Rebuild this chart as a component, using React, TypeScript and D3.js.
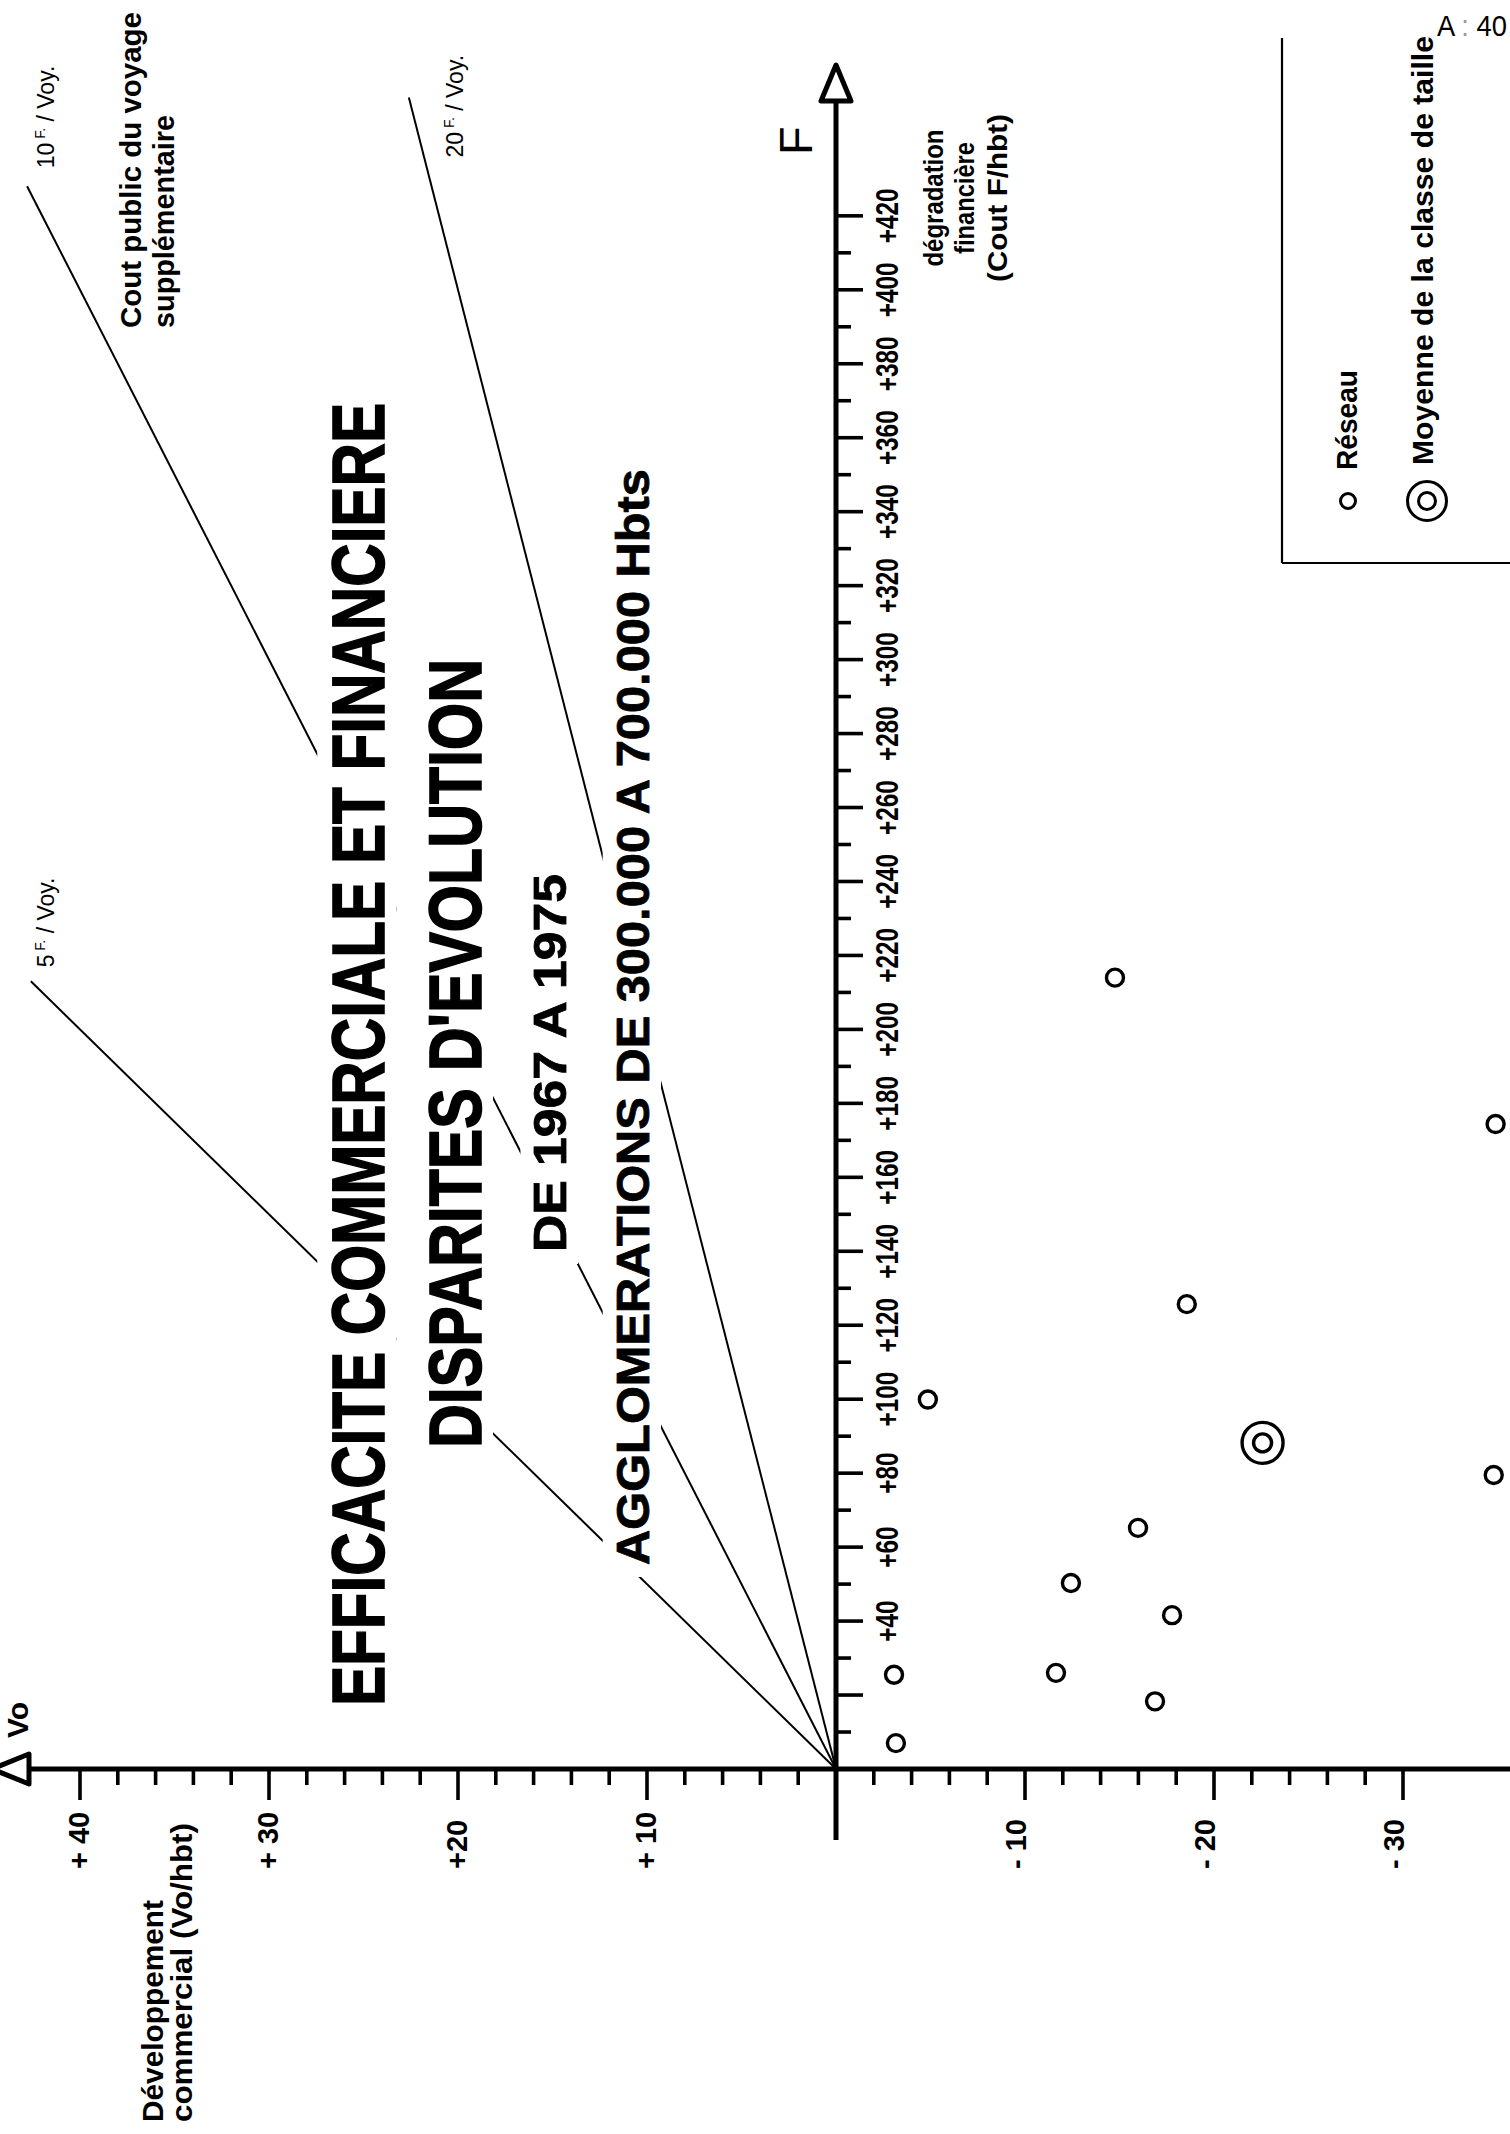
import React from 'react';
import * as d3 from 'd3';

// ---------------- DATA ----------------
// Vo (Développement commercial, Vo/hbt) and F (dégradation financière, F/hbt)
const reseauVo = [-14.76, -34.9, -18.56, -4.86, -34.8, -15.98, -12.43, -17.78, -3.07, -11.64, -16.88, -3.17];
const reseauF = [214.0, 174.4, 125.7, 99.9, 79.5, 65.2, 50.3, 41.6, 25.5, 26.0, 18.3, 7.0];
const meanVo = [-22.57];
const meanF = [88.2];

// iso-cost lines (Cout public du voyage supplémentaire, F/Voy.)
const isoCost = [5, 10, 20];
const isoMaxVo = [42.6, 42.8, 22.6];
const isoLabel = ['5', '10', '20'];

// axis ticks / labels
const voLabelValues = [40, 30, 20, 10, -10, -20, -30];
const voLabels = ['+ 40', '+ 30', '+20', '+ 10', '- 10', '- 20', '- 30'];
const fLabelValues = [40, 60, 80, 100, 120, 140, 160, 180, 200, 220, 240, 260, 280, 300, 320, 340, 360, 380, 400, 420];
const fLabels = ['+40', '+60', '+80', '+100', '+120', '+140', '+160', '+180', '+200', '+220', '+240', '+260', '+280', '+300', '+320', '+340', '+360', '+380', '+400', '+420'];

const titles = [
  'EFFICACITE COMMERCIALE ET FINANCIERE',
  "DISPARITES D'EVOLUTION",
  'DE 1967 A 1975',
  'AGGLOMERATIONS DE 300.000 A 700.000 Hbts',
];

// ---------------- LAYOUT ----------------
const W = 1510;
const H = 2134;
const X0 = 836;
const Y0 = 1769;
const PX_VO = 18.9;
const PX_F = 3.698;
const FONT = "'Liberation Sans', Arial, Helvetica, sans-serif";

// title layout: baseline x, start y (bottom), font size, length, mask pads [left,right,top,bottom]
const titleLayout = [
  { bx: 384, sy: 1706, fs: 75, len: 1303, pad: [12, 12, 12, 12] },
  { bx: 481, sy: 1448, fs: 75, len: 789, pad: [30, 12, 12, 12] },
  { bx: 566, sy: 1252, fs: 46, len: 378, pad: [12, 12, 12, 12] },
  { bx: 649, sy: 1565, fs: 47, len: 1096, pad: [12, 12, 12, 12] },
];
const isoLabelOffset = [
  [23, -14],
  [27, -18],
  [54, 60],
];

type RTProps = {
  x: number; y: number; size: number; weight?: string | number; anchor?: string;
  len?: number; sx?: number; children: React.ReactNode; stroke?: string; sw?: number;
};
function RT({ x, y, size, weight = 'bold', anchor = 'start', len, sx = 1, children, stroke, sw }: RTProps) {
  return (
    <text
      transform={`translate(${x},${y}) rotate(-90)${sx !== 1 ? ` scale(${sx},1)` : ''}`}
      fontSize={size}
      fontWeight={weight}
      textAnchor={anchor as any}
      textLength={len}
      lengthAdjust={len ? 'spacingAndGlyphs' : undefined}
      fill="#000"
      stroke={stroke}
      strokeWidth={sw}
    >
      {children}
    </text>
  );
}

export default function App() {
  const x = d3.scaleLinear().domain([-30, 40]).range([X0 + 30 * PX_VO, X0 - 40 * PX_VO]);
  const y = d3.scaleLinear().domain([0, 420]).range([Y0, Y0 - 420 * PX_F]);

  const fTicks = d3.range(10, 421, 10);
  const voTicks = d3.range(-30, 41, 2).filter((v) => v !== 0);

  const line = d3.line<[number, number]>().x((d) => x(d[0])).y((d) => y(d[1]));

  const reseau = reseauVo.map((v, i) => ({ vo: v, f: reseauF[i] }));
  const means = meanVo.map((v, i) => ({ vo: v, f: meanF[i] }));

  return (
    <svg
      width={W}
      height={H}
      viewBox={`0 0 ${W} ${H}`}
      style={{ position: 'absolute', left: 0, top: 0, background: '#fff' }}
      fontFamily={FONT}
    >
      <rect x={0} y={0} width={W} height={H} fill="#fff" />

      {/* iso-cost lines */}
      {isoCost.map((k, i) => (
        <path
          key={'iso' + k}
          d={line([[0, 0], [isoMaxVo[i], k * isoMaxVo[i]]]) || ''}
          stroke="#000"
          strokeWidth={2}
          fill="none"
        />
      ))}

      {/* white masks behind titles */}
      {titleLayout.map((t, i) => {
        const cap = t.fs * 0.73;
        return (
          <rect
            key={'mask' + i}
            x={t.bx - cap - t.pad[0]}
            y={t.sy - t.len - t.pad[2]}
            width={cap + t.pad[0] + t.pad[1]}
            height={t.len + t.pad[2] + t.pad[3]}
            fill="#fff"
          />
        );
      })}

      {/* titles */}
      {titles.map((s, i) => {
        const t = titleLayout[i];
        return (
          <RT key={'t' + i} x={t.bx} y={t.sy} size={t.fs} len={t.len} stroke="#000" sw={i < 2 ? 1.6 : 0.8}>
            {s}
          </RT>
        );
      })}

      {/* iso labels */}
      {isoCost.map((k, i) => {
        const ex = x(isoMaxVo[i]);
        const ey = y(k * isoMaxVo[i]);
        return (
          <RT key={'isol' + k} x={ex + isoLabelOffset[i][0]} y={ey + isoLabelOffset[i][1]} size={23} weight="normal">
            {isoLabel[i]}
            <tspan fontSize={14} dy={-9}> F.</tspan>
            <tspan dy={9}> / Voy.</tspan>
          </RT>
        );
      })}

      {/* Cout public du voyage supplémentaire */}
      <RT x={141} y={328} size={29} len={316}>Cout public du voyage</RT>
      <RT x={174} y={328} size={29} len={213}>supplémentaire</RT>

      {/* F axis */}
      <line x1={X0} x2={X0} y1={100} y2={1840} stroke="#000" strokeWidth={5} />
      <polygon
        points={`${X0},${65} ${X0 - 15},${101} ${X0 + 15},${101}`}
        fill="#fff"
        stroke="#000"
        strokeWidth={5}
        strokeLinejoin="round"
      />
      {fTicks.map((v) => (
        <line
          key={'ft' + v}
          x1={X0}
          x2={X0 + (v % 20 === 0 ? 27 : 15)}
          y1={y(v)}
          y2={y(v)}
          stroke="#000"
          strokeWidth={3.6}
        />
      ))}
      {fLabelValues.map((v, i) => (
        <RT key={'fl' + v} x={898} y={y(v)} size={32} anchor="middle" sx={0.76}>
          {fLabels[i]}
        </RT>
      ))}
      <RT x={812} y={155} size={47} weight="normal">F</RT>

      {/* F axis title */}
      <RT x={943} y={198} size={27} anchor="middle" len={137}>dégradation</RT>
      <RT x={974} y={198} size={27} anchor="middle" len={112}>financière</RT>
      <RT x={1007} y={198} size={27} anchor="middle" len={168}>(Cout F/hbt)</RT>

      {/* Vo axis */}
      <line x1={28} x2={W} y1={Y0} y2={Y0} stroke="#000" strokeWidth={5} />
      <polygon
        points={`${-8},${Y0} ${29},${Y0 - 15} ${29},${Y0 + 15}`}
        fill="#fff"
        stroke="#000"
        strokeWidth={5}
        strokeLinejoin="round"
      />
      {voTicks.map((v) => (
        <line
          key={'vt' + v}
          x1={x(v)}
          x2={x(v)}
          y1={Y0}
          y2={Y0 + (v % 10 === 0 ? 31 : 16)}
          stroke="#000"
          strokeWidth={3.6}
        />
      ))}
      {voLabelValues.map((v, i) => (
        <RT key={'vl' + v} x={x(v) + 10.4 - (v < 0 ? 9 : 1)} y={1869} size={29}>
          {voLabels[i]}
        </RT>
      ))}
      <RT x={28} y={1738} size={30}>Vo</RT>

      {/* Vo axis title */}
      <RT x={163} y={2122} size={30} len={222}>Développement</RT>
      <RT x={192} y={2122} size={30} len={299}>commercial (Vo/hbt)</RT>

      {/* data points */}
      {reseau.map((d, i) => (
        <circle key={'p' + i} cx={x(d.vo)} cy={y(d.f)} r={8.5} fill="none" stroke="#000" strokeWidth={3.4} />
      ))}
      {means.map((d, i) => (
        <g key={'m' + i}>
          <circle cx={x(d.vo)} cy={y(d.f)} r={20.5} fill="none" stroke="#000" strokeWidth={3.4} />
          <circle cx={x(d.vo)} cy={y(d.f)} r={9} fill="none" stroke="#000" strokeWidth={3.4} />
        </g>
      ))}

      {/* legend */}
      <line x1={1282} x2={1282} y1={38} y2={563} stroke="#000" strokeWidth={2.2} />
      <line x1={1282} x2={W} y1={563} y2={563} stroke="#000" strokeWidth={2.2} />
      <circle cx={1348} cy={501} r={7.5} fill="none" stroke="#000" strokeWidth={3} />
      <RT x={1357} y={470} size={29} len={100}>Réseau</RT>
      <circle cx={1427} cy={501} r={19.5} fill="none" stroke="#000" strokeWidth={3} />
      <circle cx={1427} cy={501} r={8.5} fill="none" stroke="#000" strokeWidth={3} />
      <RT x={1433} y={465} size={30} len={429}>Moyenne de la classe de taille</RT>

      {/* page reference */}
      <text x={1437} y={36} fontSize={30} textLength={70} lengthAdjust="spacingAndGlyphs" fill="#000">
        A<tspan fill="#999"> : </tspan>40
      </text>
    </svg>
  );
}
